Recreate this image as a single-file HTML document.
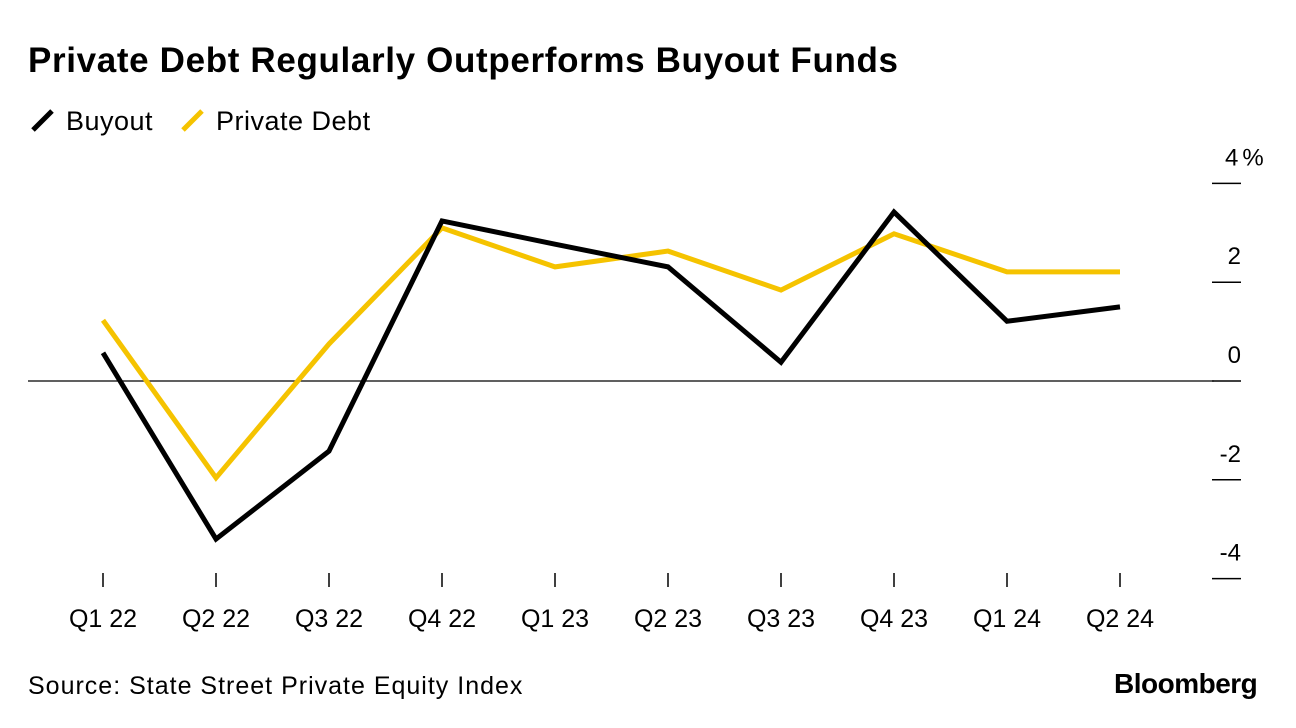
<!DOCTYPE html>
<html><head><meta charset="utf-8">
<style>
body{margin:0;background:#fff;font-family:"Liberation Sans",sans-serif;}
#wrap{position:relative;width:1296px;height:728px;overflow:hidden;}
.t{position:absolute;color:#000;white-space:nowrap;}
</style></head>
<body>
<div id="wrap">
<div class="t" style="left:28px;top:41px;font-size:35px;font-weight:bold;letter-spacing:0.65px;">Private Debt Regularly Outperforms Buyout Funds</div>
<div style="position:absolute;left:28px;top:105px;font-size:27px;">
 <span style="position:absolute;left:0;top:0;white-space:nowrap;letter-spacing:0.5px;"><svg width="30" height="30" style="vertical-align:-5px"><line x1="5" y1="25" x2="24" y2="6" stroke="#000" stroke-width="5"/></svg> Buyout</span>
 <span style="position:absolute;left:150px;top:0;white-space:nowrap;letter-spacing:0.5px;"><svg width="30" height="30" style="vertical-align:-5px"><line x1="5" y1="25" x2="24" y2="6" stroke="#f5c300" stroke-width="5"/></svg> Private Debt</span>
</div>
<svg id="chart" width="1296" height="728" style="position:absolute;left:0;top:0"></svg>
<div class="t" style="left:28px;top:672px;font-size:25px;letter-spacing:1px;">Source: State Street Private Equity Index</div>
<div class="t" style="left:1114px;top:668px;font-size:28px;font-weight:bold;letter-spacing:-0.5px;">Bloomberg</div>
</div>
<script>
const categories=["Q1 22","Q2 22","Q3 22","Q4 22","Q1 23","Q2 23","Q3 23","Q4 23","Q1 24","Q2 24"];
const buyout=[0.57,-3.2,-1.42,3.24,2.77,2.31,0.38,3.42,1.21,1.5];
const privateDebt=[1.23,-1.96,0.75,3.1,2.31,2.63,1.84,2.98,2.21,2.21];
const yTicks=[4,2,0,-2,-4];
const yTickLabels=["4%","2","0","-2","-4"];
const NS="http://www.w3.org/2000/svg";
const svg=document.getElementById('chart');
const x=i=>103+i*113;
const y=v=>381-v*49.4;
function mk(tag,attrs){const e=document.createElementNS(NS,tag);for(const k in attrs)e.setAttribute(k,attrs[k]);svg.appendChild(e);return e;}
let z=mk('line',{x1:28,x2:1214,y1:y(0),y2:y(0),stroke:'#000','stroke-width':1.2});


yTicks.forEach((v,i)=>{
 const l=mk('line',{x1:1212,x2:1241,y1:y(v),y2:y(v),stroke:'#000','stroke-width':1.5});
 
 
 const t=mk('text',{x:i==0?1225:1241,y:y(v)-18,'font-size':24,'text-anchor':i==0?'start':'end','font-family':'Liberation Sans, sans-serif','letter-spacing':i==0?'4':'0'});
 t.textContent=yTickLabels[i];
 
 
});
categories.forEach((c,i)=>{
 const l=mk('line',{x1:x(i),x2:x(i),y1:573,y2:587,stroke:'#000','stroke-width':1.5});
 
 
 const t=mk('text',{x:x(i),y:627,'font-size':25,'text-anchor':'middle','font-family':'Liberation Sans, sans-serif'});
 t.textContent=c;
 
 
});
function line(data,color,name){
 const p=mk('polyline',{points:data.map((v,i)=>x(i)+','+y(v)).join(' '),fill:'none',stroke:color,'stroke-width':5,'stroke-linejoin':'miter'});
 
 
}
line(privateDebt,'#f5c300','private-debt-line');
line(buyout,'#000','buyout-line');
</script>
</body></html>
